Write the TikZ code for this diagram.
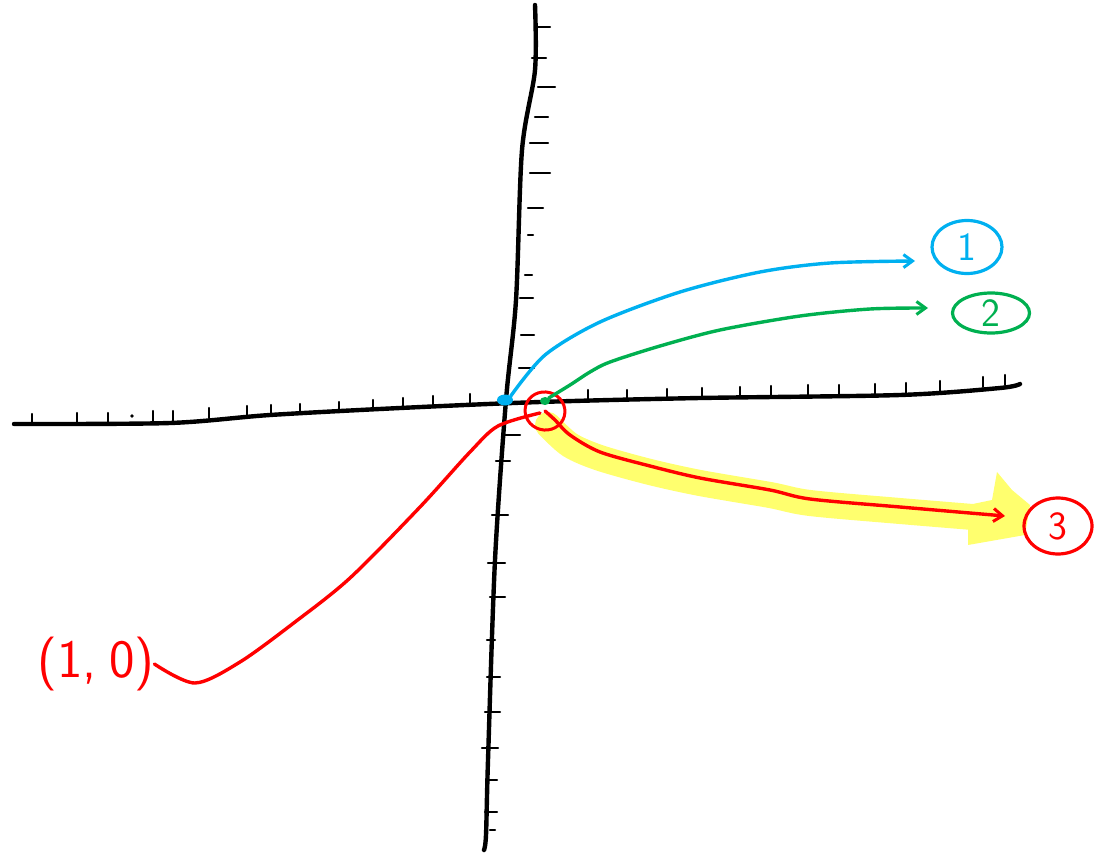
\documentclass[tikz,border=0pt]{standalone}
\usetikzlibrary{arrows.meta,shapes.geometric}
\definecolor{skyb}{RGB}{0,176,240}
\definecolor{grn}{RGB}{0,176,80}
\definecolor{hl}{RGB}{255,255,110}
\tikzset{
  axisline/.style={line width=4.4pt,black,line cap=round},
  tickline/.style={line width=2.4pt,black,line cap=round},
  ink/.style={line width=3.4pt,line cap=round,line join=round},
  barb/.style={-{Straight Barb[length=9pt,width=13pt,line width=3pt]}},
  ring/.style={ellipse,draw,line width=3.2pt,inner sep=0pt,font=\sffamily\fontsize{40}{40}\selectfont},
}
\begin{document}
\begin{tikzpicture}[x=1pt,y=-1pt]
\useasboundingbox (0,0) rectangle (1094,856);
% axes
\draw[axisline] plot[smooth] coordinates {(14,424) (170,423) (270,415) (400,408) (540,402) (700,398) (900,395) (1000,388) (1020,384)};
\draw[axisline] plot[smooth] coordinates {(535,5) (535,70) (522,150) (516,300) (506,400) (495,560) (488,760) (486,835) (484,850)};
% x ticks
\foreach \x/\y in {32/424,77/423,108/423,153/421,173/421,209/418,247/416,271/415,300/414,339/412,373/410,403/408,433/406,470/404,588/400,627/400,667/399,702/398,740/397,771/396,808/395,839/395,875/394,906/393,940/391,983/387,1005/385}
  \draw[tickline] (\x,\y) -- (\x,\y-10);
\fill (132,416) circle (1.8pt);
% y ticks
\foreach \a/\b/\y in {535/550/27,532/546/58,538/555/87,535/548/117,530/548/143,530/550/173,528/543/208,528/533/235,525/532/275,520/533/298,521/534/335,519/534/368,505/520/435,496/510/461,492/508/515,488/505/563,490/505/597,487/495/640,487/500/677,485/500/712,482/498/748,487/497/780,485/497/812,490/495/830}
  \draw[tickline] (\a,\y) -- (\b,\y);
% highlight
\draw[hl,line width=26pt,line cap=round,line join=round] plot[smooth] coordinates {(548,425) (570,445) (600,458) (650,472) (700,483) (770,495) (810,503) (900,511) (985,518)};
\fill[hl] (968,505) -- (992,500) -- (997,472) -- (1012,490) -- (1030,505) -- (1025,535) -- (968,545) -- cycle;
% points
\node[ellipse,fill=skyb,minimum width=16pt,minimum height=11pt,inner sep=0pt] (o1) at (505,400) {};
\node[ellipse,fill=grn,minimum width=10pt,minimum height=8pt,inner sep=0pt] (o2) at (545,401) {};
\node[ellipse,draw=red,line width=3pt,minimum width=40pt,minimum height=38pt,inner sep=0pt,rotate=-15] (loop) at (545,411) {};
% labels
\node[ring,draw=skyb,text=skyb,minimum width=70pt,minimum height=53pt] (l1) at (967,247) {1};
\node[ring,draw=grn,text=grn,minimum width=77pt,minimum height=40pt] (l2) at (991,313) {2};
\node[ring,draw=red,text=red,minimum width=68pt,minimum height=56pt] (l3) at (1058,526) {3};
\node[red,font=\sffamily\fontsize{54}{54}\selectfont,inner sep=0pt] (l10) at (96,664) {(1,\hspace{12pt}0)};
% connectors
\draw[ink,skyb,barb] plot[smooth] coordinates {(o1.north east) (545,355) (600,322) (680,292) (760,272) (830,263) (915,261)};
\draw[ink,grn,barb] plot[smooth] coordinates {(o2.north east) (570,385) (590,372) (610,362) (660,346) (720,330) (800,316) (870,309) (928,308)};
\draw[ink,red,barb] plot[smooth] coordinates {(loop.center) (555,420) (570,435) (600,452) (650,466) (700,478) (770,490) (810,499) (900,507) (1005,516)};
\draw[ink,red] plot[smooth] coordinates {(l10.east) (195,683) (240,662) (295,622) (350,578) (420,507) (470,452) (498,426) (540,413)};
\end{tikzpicture}
\end{document}
